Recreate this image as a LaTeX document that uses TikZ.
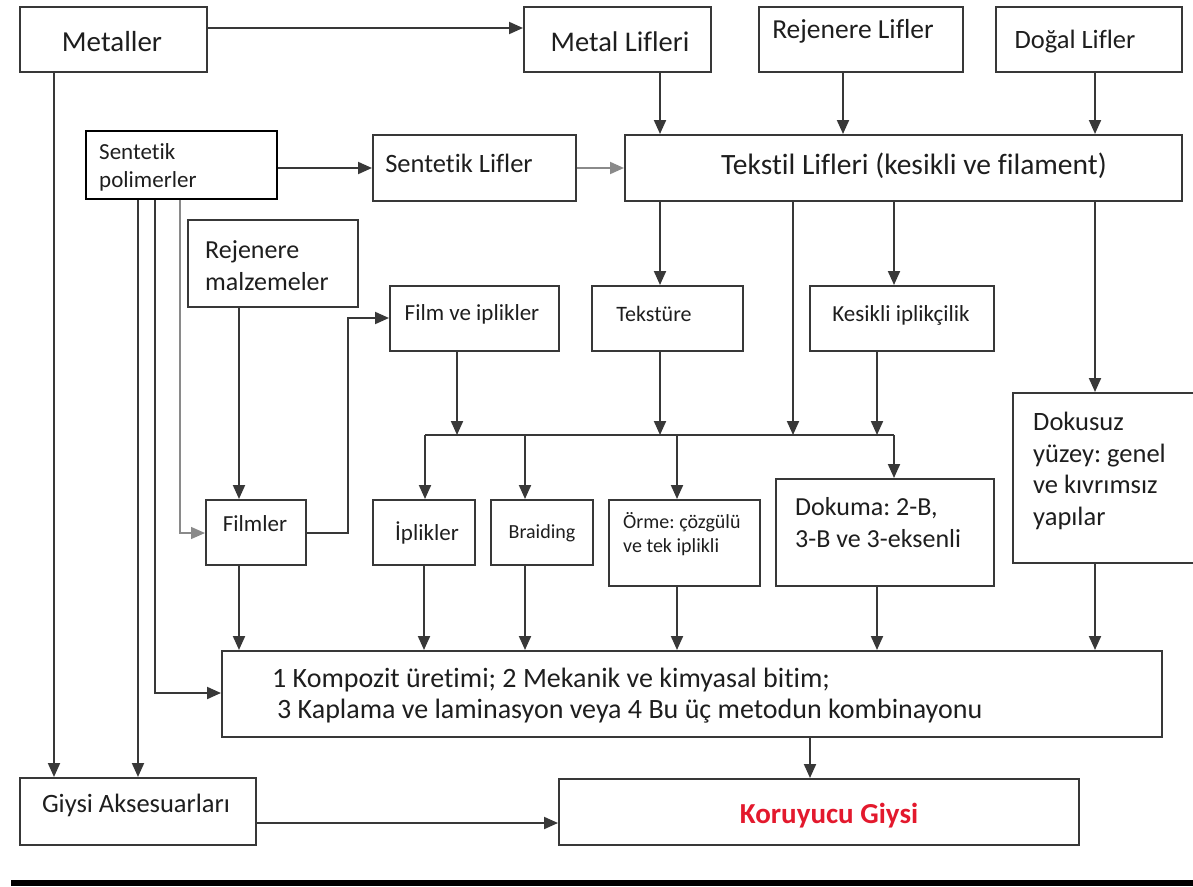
\documentclass[tikz,border=0pt]{standalone}
\usepackage{fontspec}
\setmainfont{Carlito}[Ligatures=NoCommon]
\usetikzlibrary{arrows.meta}
\definecolor{ink}{HTML}{1E1E1E}
\definecolor{wire}{HTML}{383838}
\definecolor{pale}{HTML}{8A8A8A}
\definecolor{alert}{HTML}{E3192D}
\frenchspacing
\begin{document}
\begin{tikzpicture}[x=1pt,y=-1pt,
  bx/.style 2 args={draw=wire,line width=2pt,inner sep=0pt,minimum width=#1pt,minimum height=#2pt},
  tx/.style={font=\fontsize{#1}{#1}\selectfont,text=ink,inner sep=0pt},
  arr/.style={draw=wire,line width=2pt,-{Triangle[length=14pt,width=12pt]}},
  ln/.style={draw=wire,line width=2pt}]
\useasboundingbox (0,0) rectangle (1193,886);

% ---- boxes
\node[bx={187}{65}] (metaller) at (113.5,39.5) {};
\node[bx={187}{65}] (metal) at (617.5,39.5) {};
\node[bx={204}{65}] (rejL) at (861,39.5) {};
\node[bx={186}{65}] (dogal) at (1089,39.5) {};
\node[bx={191}{68},line width=2.8pt,draw=black] (sp) at (181.5,165) {};
\node[bx={203}{66}] (sl) at (474.5,168) {};
\node[bx={557}{66}] (tekstil) at (903.5,168) {};
\node[bx={170}{87}] (rejm) at (273,263.5) {};
\node[bx={169}{65}] (filmip) at (474.5,318.5) {};
\node[bx={151}{65}] (tekstur) at (667.5,318.5) {};
\node[bx={184}{65}] (kesikli) at (902,318.5) {};
\node[bx={100}{65}] (filmler) at (256,532.5) {};
\node[bx={102}{65}] (iplik) at (424,532.5) {};
\node[bx={102}{65}] (braid) at (542,532.5) {};
\node[bx={151}{86}] (orme) at (684.5,543) {};
\node[bx={218}{107}] (dokuma) at (885,532.5) {};
% runs past the right edge of the page
\node[bx={192}{170}] (dokusuz) at (1109,478) {};
\node[bx={940}{86}] (kompozit) at (692,694) {};
\node[bx={236}{67}] (giysi) at (138,811.5) {};
\node[bx={520}{66}] (koruyucu) at (819,812) {};

% ---- texts
\node[tx=29,anchor=base] (tMetaller) at (112,51) {Metaller};
\node[tx=28.5,anchor=base] (tMetal) at (620,51) {Metal Lifleri};
\node[tx=27.5,anchor=base] (tRejL) at (853,38) {Rejenere Lifler};
\node[tx=26.5,anchor=base] (tDogal) at (1075,48) {Doğal Lifler};
\node[tx=23,anchor=base west] (tSp1) at (99,159) {Sentetik};
\node[tx=23,anchor=base west] (tSp2) at (99,187) {polimerler};
\node[tx=26.5,anchor=base] (tSl) at (459,172) {Sentetik Lifler};
\node[tx=29.5,anchor=base] (tTekstil) at (914,174) {Tekstil Lifleri (kesikli ve filament)};
\node[tx=26,anchor=base west] (tRejm1) at (205,258) {Rejenere};
\node[tx=26,anchor=base west] (tRejm2) at (205,290) {malzemeler};
\node[tx=23,anchor=base] (tFilmip) at (472,320) {Film ve iplikler};
\node[tx=22,anchor=base] (tTekstur) at (654,321) {Tekstüre};
\node[tx=23,anchor=base] (tKesikli) at (901,321) {Kesikli iplikçilik};
\node[tx=23,anchor=base] (tFilmler) at (255,531) {Filmler};
\node[tx=23,anchor=base] (tIplik) at (427,540) {İplikler};
\node[tx=20,anchor=base] (tBraid) at (542,538) {Braiding};
\node[tx=20,anchor=base west] (tOrme1) at (623,528) {Örme: çözgülü};
\node[tx=20,anchor=base west] (tOrme2) at (623,552) {ve tek iplikli};
\node[tx=26,anchor=base west] (tDokuma1) at (795,515) {Dokuma: 2-B,};
\node[tx=26,anchor=base west] (tDokuma2) at (795,547) {3-B ve 3-eksenli};
\node[tx=26.5,anchor=base west] (tDok1) at (1033,430) {Dokusuz};
\node[tx=26.5,anchor=base west] (tDok2) at (1033,462) {yüzey: genel};
\node[tx=26.5,anchor=base west] (tDok3) at (1033,493) {ve kıvrımsız};
\node[tx=26.5,anchor=base west] (tDok4) at (1033,525) {yapılar};
\node[tx=28,anchor=base west] (tKomp1) at (272,687) {1 Kompozit üretimi; 2 Mekanik ve kimyasal bitim;};
\node[tx=28,anchor=base west] (tKomp2) at (277,718) {3 Kaplama ve laminasyon veya 4 Bu üç metodun kombinayonu};
\node[tx=26.5,anchor=base] (tGiysi) at (136,812) {Giysi Aksesuarları};
\node[tx=29,anchor=base,text=alert,font=\fontsize{29}{29}\selectfont\bfseries] (tKoruyucu) at (829,823) {Koruyucu Giysi};

% ---- junction points of the distribution bar
\coordinate (busL) at (425,435);
\coordinate (busR) at (894,435);

% ---- top row
\draw[arr] (metaller.east |- 0,28) -- (metal.west |- 0,28);
\draw[arr] (metal.south -| 660,0) -- (tekstil.north -| 660,0);
\draw[arr] (rejL.south -| 843,0) -- (tekstil.north -| 843,0);
\draw[arr] (dogal.south -| 1095,0) -- (tekstil.north -| 1095,0);
\draw[arr] (sp.east |- 0,168) -- (sl.west |- 0,168);
\draw[arr,draw=pale] (sl.east |- 0,168) -- (tekstil.west |- 0,168);

% ---- from textile fibres
\draw[arr] (tekstil.south -| 660,0) -- (tekstur.north -| 660,0);
\draw[arr] (tekstil.south -| 793,0) -- (busL -| 793,0);
\draw[arr] (tekstil.south -| 894,0) -- (kesikli.north -| 894,0);
\draw[arr] (tekstil.south -| 1095,0) -- (dokusuz.north -| 1095,0);

% ---- left feeds
\draw[arr] (metaller.south -| 54,0) -- (giysi.north -| 54,0);
\draw[arr] (sp.south -| 138,0) -- (giysi.north -| 138,0);
\draw[arr] (sp.south -| 155,0) |- (kompozit.west |- 0,693);
\draw[arr,draw=pale,line width=1.3pt] (sp.south -| 180,0) |- (filmler.west |- 0,533);
\draw[arr] (rejm.south -| 239,0) -- (filmler.north -| 239,0);
\draw[arr] (filmler.east |- 0,533) -- (348,533) |- (filmip.west |- 0,318);

% ---- into the distribution bar
\draw[arr] (filmip.south -| 457,0) -- (busL -| 457,0);
\draw[arr] (tekstur.south -| 660,0) -- (busL -| 660,0);
\draw[arr] (kesikli.south -| 877,0) -- (busL -| 877,0);
\draw[ln] (busL) -- (busR);

% ---- out of the distribution bar
\draw[arr] (busL) -- (iplik.north -| busL);
\draw[arr] (busL -| 525,0) -- (braid.north -| 525,0);
\draw[arr] (busL -| 677,0) -- (orme.north -| 677,0);
\draw[arr] (busR) -- (dokuma.north -| busR);

% ---- into finishing
\draw[arr] (filmler.south -| 239,0) -- (kompozit.north -| 239,0);
\draw[arr] (iplik.south) -- (kompozit.north -| iplik.south);
\draw[arr] (braid.south -| 525,0) -- (kompozit.north -| 525,0);
\draw[arr] (orme.south -| 677,0) -- (kompozit.north -| 677,0);
\draw[arr] (dokuma.south -| 877,0) -- (kompozit.north -| 877,0);
\draw[arr] (dokusuz.south -| 1095,0) -- (kompozit.north -| 1095,0);

% ---- to protective clothing
\draw[arr] (kompozit.south -| 810,0) -- (koruyucu.north -| 810,0);
\draw[arr] (giysi.east |- 0,823) -- (koruyucu.west |- 0,823);

% ---- footer rule
\fill[black] (11,880) rectangle (1193,886);
\end{tikzpicture}
\end{document}
